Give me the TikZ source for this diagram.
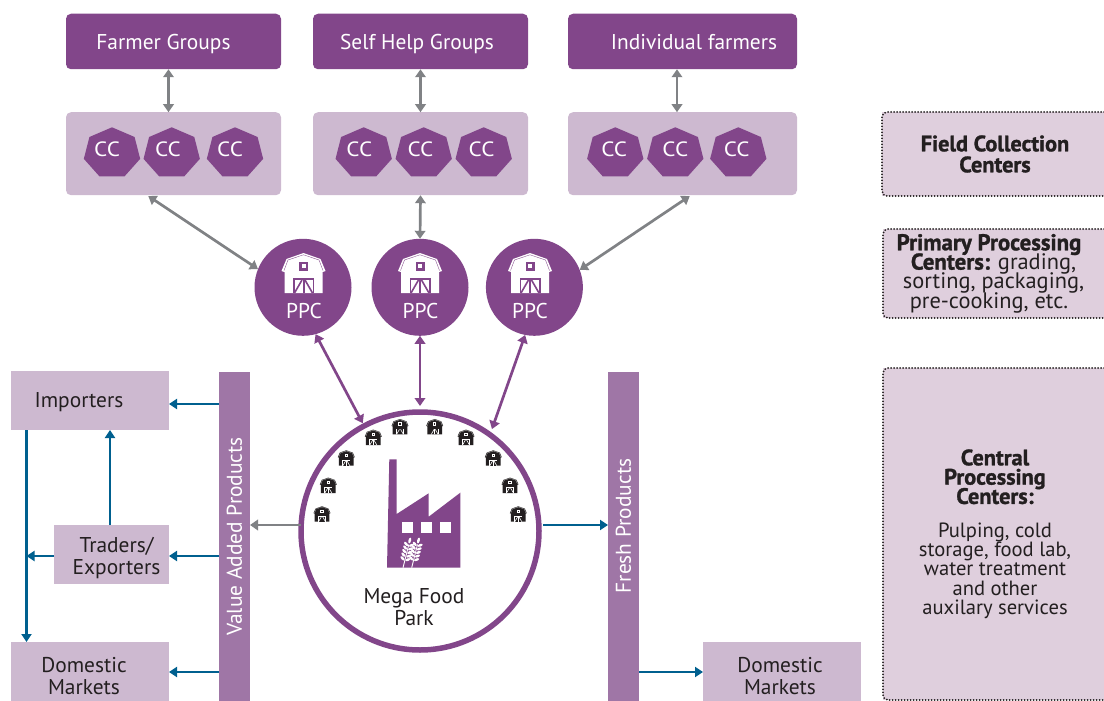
\documentclass[tikz,border=0pt]{standalone}
\usepackage{fontspec}
\usepackage{graphicx}
\setmainfont{PT Sans}[BoldFeatures={FakeBold=1.3}]
\usetikzlibrary{arrows.meta,shapes.geometric}
\definecolor{pur}{HTML}{82468A}
\definecolor{lil}{HTML}{CDB9D0}
\definecolor{pale}{HTML}{DFCFDD}
\definecolor{barc}{HTML}{9F76A6}
\definecolor{teal2}{HTML}{00608F}
\definecolor{gry}{HTML}{808285}
\definecolor{ink}{HTML}{231F20}
\newcommand{\fs}[2]{\fontsize{#1}{#2}\selectfont\lineskiplimit=-20pt\relax}
\newcommand{\dn}[1]{\rule{0pt}{#1}}
\newcommand{\dd}{\rule[-6pt]{0pt}{29pt}}
\newcommand{\bh}[1]{{\fs{22.3}{19.3}\textbf{#1}}}
\newcommand{\bp}[1]{{\fs{22.8}{19.3}\textbf{#1}}}
\tikzset{
 x=1pt,y=-1pt,
 flat/.style={rectangle,inner sep=0pt,outer sep=0pt,align=center,text=ink,font=\fs{21.4}{22}},
 topbox/.style={flat,fill=pur,text=white,rounded corners=5pt,minimum height=55.5pt},
 ccbox/.style={flat,fill=lil,rounded corners=5pt,minimum height=83pt},
 mktbox/.style={flat,fill=lil,minimum height=59pt},
 vbar/.style={flat,fill=barc,text=white,minimum width=31pt,minimum height=329pt},
 note/.style={flat,fill=pale,font=\fs{20.6}{19.3}},
 notedots/.style={ink,line width=2pt,line cap=round,dash pattern=on 0pt off 3pt},
 hepta/.style={regular polygon,regular polygon sides=7,fill=pur,text=white,inner sep=0pt,outer sep=0pt,minimum size=53.5pt,xscale=1.08,yscale=.965,transform shape,font=\fs{21.4}{20}},
 ppcc/.style={circle,fill=pur,minimum size=97pt,inner sep=0pt,outer sep=0pt},
 txtw/.style={text=white,font=\fs{21.4}{20},inner sep=0pt},
 gar/.style={gry,line width=2.7pt,{Triangle[width=10.5pt,length=8pt]}-{Triangle[width=10.5pt,length=8pt]}},
 par/.style={pur,line width=2.7pt,{Triangle[width=10.5pt,length=8pt]}-{Triangle[width=10.5pt,length=8pt]}},
 tar/.style={teal2,line width=2.5pt,-{Triangle[width=10pt,length=8pt]}},
 gone/.style={gry,line width=2.7pt,-{Triangle[width=10.5pt,length=8pt]}},
 pics/barn/.style n args={3}{code={
  \fill[#1] (0,-20) -- (-17,-14) -- (-22,-2) -- (-19,-1) -- (-19,20) -- (19,20) -- (19,-1) -- (22,-2) -- (17,-14) -- cycle;
  \draw[#2,line width=#3*.35pt] (-19.5,-2.5) -- (-15.5,-13) -- (0,-18.2) -- (15.5,-13) -- (19.5,-2.5);
  \fill[#2] (-4.5,-11.5) rectangle (4.5,-2.5);
  \fill[#1] (-2,-9) rectangle (2,-5);
  \fill[#2] (-10.5,4.7) rectangle (10.5,20);
  \fill[#1] (-9,7) rectangle (-1,20);
  \fill[#1] (1,7) rectangle (9,20);
  \draw[#2,line width=#3*1.6pt] (-9,20) -- (-1.5,7);
  \draw[#2,line width=#3*1.6pt] (9,20) -- (1.5,7);
 }},
 pics/wheat/.style={code={
  \draw[white,line width=.9pt] (0,0) -- (0,-24);
  \foreach \q in {-9,-12.7,-16.4,-20.1,-23.8}{
   \fill[white,rotate around={35:(2.8,\q)}] (2.8,\q) ellipse (2.6 and 1.3);
   \fill[white,rotate around={-35:(-2.8,\q)}] (-2.8,\q) ellipse (2.6 and 1.3);
  }
  \fill[white] (0,-28) ellipse (1.3 and 3);
 }},
}
\newcommand{\cct}[1]{\raisebox{-4pt}[0pt][0pt]{CC\hspace*{#1pt}}}
\begin{document}
\begin{tikzpicture}
\useasboundingbox (0,0) rectangle (1104,701);
% top row
\node[topbox,minimum width=215pt] (fg) at (173.5,41.5) {\dd Farmer Groups\hspace*{20pt}};
\node[topbox,minimum width=215pt] (sh) at (420.5,41.5) {\dd Self Help Groups\hspace*{7pt}};
\node[topbox,minimum width=229pt] (if) at (682.5,41.5) {\dd\hspace*{23pt}Individual farmers};
\node[ccbox,minimum width=215pt] (cb1) at (173.5,153.7) {};
\node[ccbox,minimum width=215pt] (cb2) at (420.5,153.7) {};
\node[ccbox,minimum width=229pt] (cb3) at (682.5,153.7) {};
\node[hepta] (c11) at (112,153.1) {\cct{9}};
\node[hepta] (c12) at (171.7,153.1) {\cct{7}};
\node[hepta] (c13) at (235,153.1) {\cct{9}};
\node[hepta] (c21) at (363.7,153.1) {\cct{8}};
\node[hepta] (c22) at (423.7,153.1) {\cct{6}};
\node[hepta] (c23) at (483.7,153.1) {\cct{4}};
\node[hepta] (c31) at (615.3,153.1) {\cct{2}};
\node[hepta] (c32) at (675.3,153.1) {\cct{0}};
\node[hepta] (c33) at (738.3,153.1) {\cct{3}};
% PPC
\node[ppcc] (p1) at (303,287.3) {};
\node[ppcc] (p2) at (420,287.3) {};
\node[ppcc] (p3) at (534.4,287.3) {};
\pic at (303.5,273) {barn={white}{pur}{1}};
\pic at (420,273) {barn={white}{pur}{1}};
\pic at (530,273) {barn={white}{pur}{1}};
\node[txtw] (pt1) at (304,311) {PPC};
\node[txtw] (pt2) at (420.5,311) {PPC};
\node[txtw] (pt3) at (530,311) {PPC};
% park
\node[circle,draw=pur,fill=white,line width=5.5pt,minimum size=238pt,inner sep=0pt,outer sep=0pt] (mega) at (420,531) {};
\fill[pur] (389.3,459.3) -- (396.7,459.3) -- (396.7,514) -- (428.7,493.3) -- (428.7,516.7) -- (460.3,492.7) -- (460.3,567.7) -- (387,567.7) -- cycle;
\fill[white] (402,522.3) rectangle (413,533);
\fill[white] (421,522.3) rectangle (432,533);
\fill[white] (440,522.3) rectangle (451,533);
\pic[rotate=-14] at (403,567.7) {wheat};
\pic[rotate=-14] at (411.7,567.7) {wheat};
\foreach \bx/\by in {322/514,328.3/485.3,346.3/458,373.3/437.3,400/426.7,434.7/426.7,466/437.3,493.3/458,510/485.3,518.3/514}
  \pic[scale=.385] at (\bx,\by) {barn={ink}{white}{.385}};
\node[flat] (mfp) at (414,607) {Mega Food\\Park};
% left/right
\node[mktbox,minimum width=158pt] (imp) at (90,400.5) {\dn{19pt}Importers\hspace*{22pt}};
\node[mktbox,minimum width=115pt] (trd) at (111.5,554.5) {\dn{23pt}\hspace*{10pt}Traders/\\\hspace*{10pt}Exporters};
\node[mktbox,minimum width=158pt] (dl) at (90,671.5) {\dn{24pt}Domestic\hspace*{12pt}\\Markets\hspace*{12pt}};
\node[mktbox,minimum width=158pt] (dr) at (782,671.5) {\dn{24pt}Domestic\hspace*{4pt}\\Markets\hspace*{4pt}};
\node[vbar] (vap) at (234.5,536.5) {\rotatebox{90}{Value Added Products}};
\node[vbar] (fp) at (623.5,536.5) {\rotatebox{90}{\hspace*{21pt}Fresh Products}};
% notes
\node[note,minimum width=222pt,minimum height=84pt] (n1) at (993,154) {\hspace*{4pt}\bh{Field Collection}\\[1.7pt]\hspace*{4pt}\bh{Centers}};
\node[note,minimum width=221pt,minimum height=89pt,font=\fs{22.4}{19.3}] (n2) at (993.5,273.5) {\bp{Primary Processing}\hspace*{9pt}\\\bp{Centers:} grading,\hspace*{9pt}\\sorting, packaging,\hspace*{9pt}\\pre-cooking, etc.\hspace*{9pt}};
\node[note,minimum width=221pt,minimum height=332pt] (n3) at (993.5,534) {\hspace*{3pt}\bh{Central}\\\hspace*{3pt}\bh{Processing}\\\hspace*{3pt}\bh{Centers:}\\[14pt]\hspace*{3pt}Pulping, cold\\\hspace*{3pt}storage, food lab,\\\hspace*{3pt}water treatment\\\hspace*{3pt}and other\\\hspace*{3pt}auxilary services};
\draw[notedots,rounded corners=5pt] (n1.north east) -- (n1.north west) -- (n1.south west) -- (n1.south east);
\draw[notedots,rounded corners=5pt] (n2.north east) -- (n2.north west) -- (n2.south west) -- (n2.south east);
\draw[notedots,rounded corners=5pt] (n3.north east) -- (n3.north west) -- (n3.south west) -- (n3.south east);
% helper levels
\coordinate (a1) at (168.5,0);
\coordinate (a2) at (420.5,0);
\coordinate (a3) at (677,0);
\coordinate (r1) at (0,404);
\coordinate (r2) at (0,556);
\coordinate (r3) at (0,672);
\coordinate (r4) at (0,525);
\coordinate (v1) at (26.5,0);
\coordinate (v2) at (110,0);
\coordinate (d1) at (147,0);
\coordinate (d3) at (691,0);
% grey
\draw[gar] (fg.south -| a1) -- (cb1.north -| a1);
\draw[gar] (sh.south -| a2) -- (cb2.north -| a2);
\draw[gar] (if.south -| a3) -- (cb3.north -| a3);
\draw[gar,shorten <=1.5pt] (cb1.south -| d1) -- (p1.158);
\draw[gar] (cb2.south -| a2) -- (p2.north);
\draw[gar,shorten <=1.5pt] (cb3.south -| d3) -- (p3.21);
% purple
\draw[par,shorten >=3pt] (p1.-75) -- (mega.118);
\draw[par,shorten >=6pt] (p2.south) -- (mega.north);
\draw[par,shorten >=6pt] (p3.-101) -- (mega.54);
% flows
\draw[tar] (vap.west |- r1) -- (imp.east |- r1);
\draw[tar] (vap.west |- r2) -- (trd.east |- r2);
\draw[tar] (vap.west |- r3) -- (dl.east |- r3);
\draw[tar] (imp.south -| v1) -- (dl.north -| v1);
\draw[tar] (trd.north -| v2) -- (imp.south -| v2);
\draw[tar] (trd.west |- r2) -- (v1 |- r2);
\draw[gone] (mega.west |- r4) -- (vap.east |- r4);
\draw[tar,shorten <=4pt] (mega.east |- r4) -- (fp.west |- r4);
\draw[tar] (fp.east |- r3) -- (dr.west |- r3);
\end{tikzpicture}
\end{document}
